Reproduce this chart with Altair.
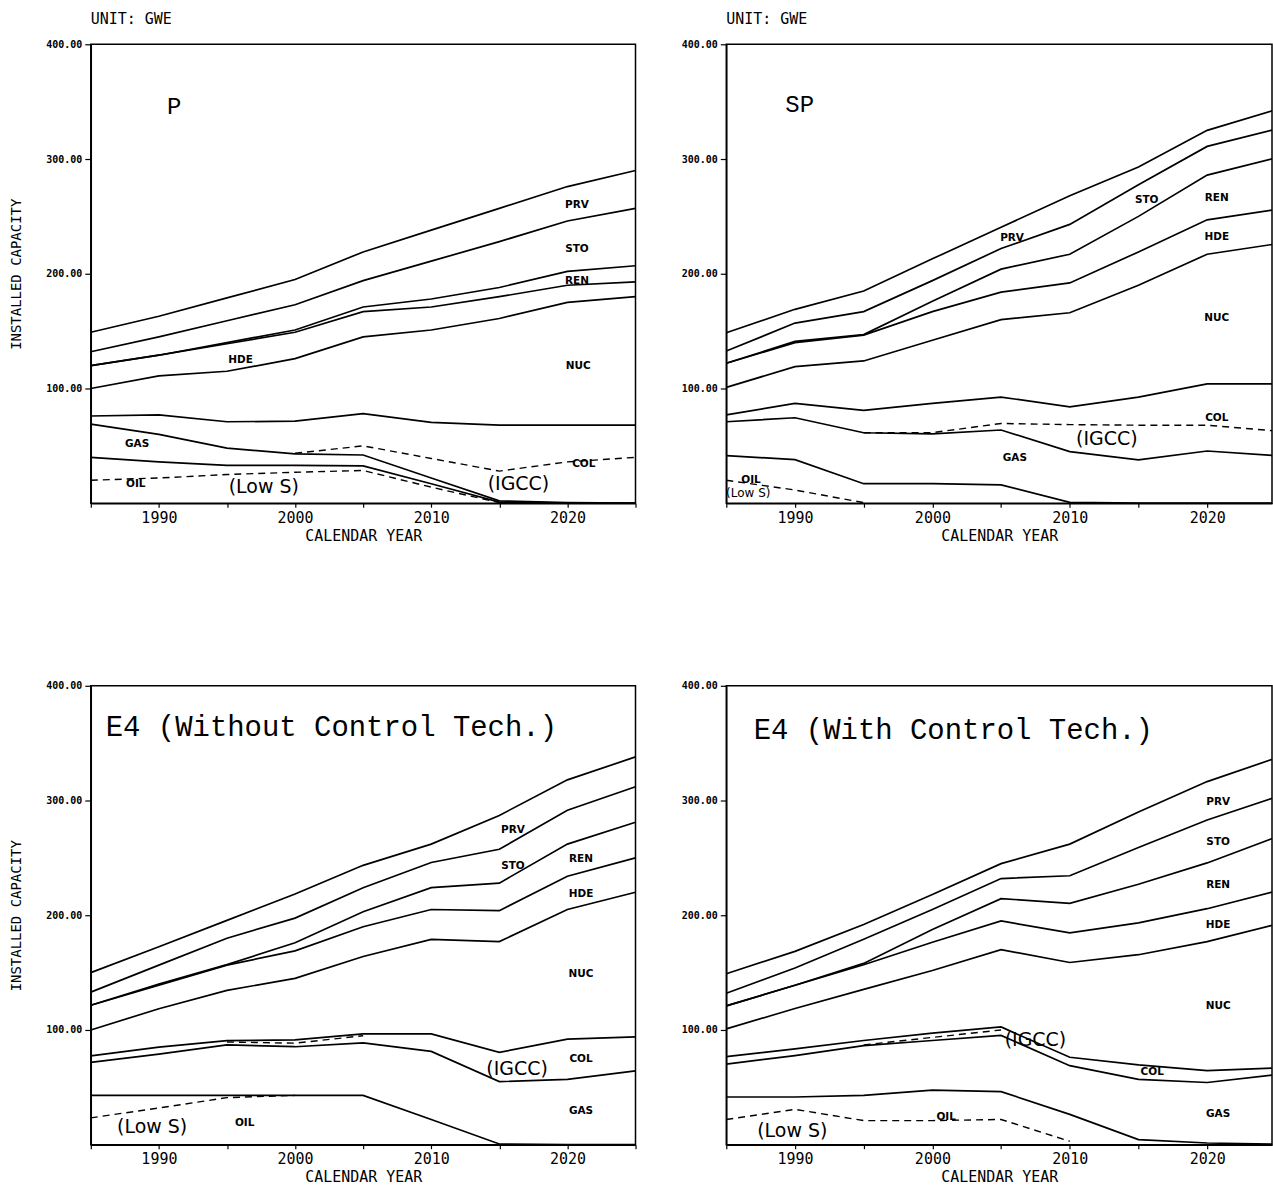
import altair as alt
import pandas as pd

YEARS = [1985, 1990, 1995, 2000, 2005, 2010, 2015, 2020, 2025]

# Cumulative installed capacity (GWe) at the upper edge of each band.
# Order from top to bottom: PRV, STO, REN, HDE, NUC, COL, GAS, OIL.
P_TOP = {
    "PRV": [149, 163, 179, 195, 219, 238, 257, 276, 290],
    "STO": [132, 145, 159, 173, 194, 211, 228, 246, 257],
    "REN": [120, 129, 140, 151, 171, 178, 188, 202, 207],
    "HDE": [120, 129, 139, 149, 167, 171, 180, 190, 193],
    "NUC": [100, 111, 115, 126, 145, 151, 161, 175, 180],
    "COL": [76, 77, 71, 71.5, 78, 70.5, 68, 68, 68],
    "GAS": [69, 60, 48, 43, 42, 22, 2, 0.5, 0],
    "OIL": [40, 36, 33, 33, 32.5, 17, 1, 0, 0],
}
P_IGCC = [None, None, None, 43.5, 50, 39, 28, 36, 40]
P_LOWS = [20, 22, 25, 27, 28.5, 14, 0.5, None, None]

SP_TOP = {
    "PRV": [148.6, 169, 185, 213, 240.5, 268, 293, 325, 343],
    "STO": [132.6, 157, 167, 194, 222, 243, 277.5, 311, 326],
    "REN": [122, 141, 147, 176, 204, 217, 250, 286, 301],
    "HDE": [122, 140, 146.5, 167, 184, 192, 219, 247, 256],
    "NUC": [101, 119, 124, 142, 160, 166, 190, 217, 226],
    "COL": [77, 87, 81, 87, 92.5, 84, 92.5, 104, 104],
    "GAS": [71, 74.5, 61.4, 60.5, 63.8, 45, 37.7, 45.5, 41.5],
    "OIL": [41.5, 38, 17, 17, 16, 0.8, 0, 0, 0],
}
SP_IGCC = [None, None, 61.4, 61.5, 69.5, 68.5, 68, 68, 63]
SP_LOWS = [20, 11.5, 0.5, None, None, None, None, None, None]

E4N_TOP = {
    "PRV": [150, 172.5, 195.5, 218.5, 243.5, 262, 287, 318, 338],
    "STO": [133, 156.5, 180, 197.5, 224, 246, 257.5, 291.5, 312],
    "REN": [121.5, 140, 157, 176, 203, 224, 228, 262, 281],
    "HDE": [121.5, 139, 156.5, 169, 190, 205, 204, 234, 250],
    "NUC": [100, 118.5, 134.5, 145, 164, 179, 177, 205, 220],
    "COL": [77.5, 85, 90.7, 91.3, 96.6, 96.6, 80.5, 92, 94],
    "GAS": [71.7, 79, 87, 85.4, 88.7, 81.3, 55, 57, 64.4],
    "OIL": [43, 43, 43, 43, 43, 22, 0.6, 0, 0],
}
E4N_IGCC = [None, None, 89.5, 88.5, 95, None, None, None, None]
E4N_LOWS = [23.4, 32, 41, 43, None, None, None, None, None]

E4C_TOP = {
    "PRV": [149, 168.5, 192, 218, 245, 262, 290, 316.5, 337],
    "STO": [132, 154, 179, 205, 232, 234.4, 259, 283, 303],
    "REN": [121, 139, 158, 187.5, 214.5, 210.4, 227, 245.6, 268],
    "HDE": [121, 139, 156.8, 176.4, 195, 184.6, 193.4, 205.7, 221],
    "NUC": [101, 118.7, 135.4, 151.8, 170, 158.8, 165.6, 177, 192],
    "COL": [76.8, 83.5, 90.8, 97.3, 102.6, 76.2, 69.5, 64.5, 66.8],
    "GAS": [70.3, 77.7, 86.4, 90.8, 95.2, 68.9, 57, 54.2, 61],
    "OIL": [41.6, 41.6, 43, 47.5, 46.3, 26.4, 4.4, 1.5, 0.5],
}
E4C_IGCC = [None, None, 87, 93.5, 100, None, None, None, None]
E4C_LOWS = [22, 30.8, 21, 21, 22, 3, None, None, None]

# Band names written inside the chart: (text, year, GWe)
P_BAND_LABELS = [("PRV", 2020.7, 260), ("STO", 2020.7, 221.5), ("REN", 2020.7, 194),
                 ("HDE", 1996.0, 125), ("NUC", 2020.8, 120), ("GAS", 1988.4, 52),
                 ("COL", 2021.2, 34), ("OIL", 1988.3, 17)]
SP_BAND_LABELS = [("STO", 2015.6, 264), ("REN", 2020.7, 266), ("PRV", 2005.8, 231),
                  ("HDE", 2020.7, 232), ("NUC", 2020.7, 161), ("COL", 2020.7, 74),
                  ("GAS", 2006.0, 39), ("OIL", 1986.8, 20)]
E4N_BAND_LABELS = [("PRV", 2016.0, 274), ("STO", 2016.0, 242.5), ("REN", 2021.0, 248.6),
                   ("HDE", 2021.0, 218.8), ("NUC", 2021.0, 148.8), ("COL", 2021.0, 75),
                   ("GAS", 2021.0, 29), ("OIL", 1996.3, 19.3)]
E4C_BAND_LABELS = [("PRV", 2020.8, 299), ("STO", 2020.8, 264), ("REN", 2020.8, 226),
                   ("HDE", 2020.8, 191.7), ("NUC", 2020.8, 120.8), ("COL", 2016.0, 63),
                   ("GAS", 2020.8, 27), ("OIL", 2001.0, 24.5)]

# Technology notes: (text, year, GWe)
P_NOTES = [("(Low S)", 1997.7, 14), ("(IGCC)", 2016.4, 16.5)]
SP_NOTES = [("(IGCC)", 2012.7, 55.7)]
SP_SMALL_NOTES = [("(Low S)", 1986.6, 8.7)]
E4N_NOTES = [("(Low S)", 1989.5, 15), ("(IGCC)", 2016.3, 65.6)]
E4C_NOTES = [("(Low S)", 1989.8, 12.3), ("(IGCC)", 2007.5, 91)]

# Scenario names: (text, year of left edge, GWe, font size)
P_NAME = [("P", 1990.6, 345, 24)]
SP_NAME = [("SP", 1989.3, 347, 24)]
E4N_NAME = [("E4  (Without Control Tech.)", 1986.1, 364, 29)]
E4C_NAME = [("E4  (With Control Tech.)", 1987.0, 361.5, 29)]

MONO = "DejaVu Sans Mono"


def line_frame(series):
    rows = []
    for name, vals in series.items():
        for yr, v in zip(YEARS, vals):
            if v is not None:
                rows.append({"series": name, "year": yr, "value": v})
    return pd.DataFrame(rows)


def label_frame(items):
    return pd.DataFrame([{"label": t, "year": x, "value": y} for t, x, y in items])


def panel(tops, igcc, lows, band_labels, notes, name, left, small_notes=None):
    width = 546 if left else 547
    x_max = 2025 if left else 2024.72
    tick_years = [y for y in range(1985, 2026, 5) if y <= x_max]

    x_enc = alt.X(
        "year:Q",
        scale=alt.Scale(domain=[1985, x_max], nice=False, zero=False),
        axis=alt.Axis(
            values=tick_years, format="d",
            labelExpr="datum.value % 10 === 0 ? datum.label : ''",
            title="CALENDAR YEAR", titlePadding=2,
            tickSize=4, labelPadding=3, minExtent=23, maxExtent=23,
            grid=False, labelFlush=False,
        ),
    )
    y_enc = alt.Y(
        "value:Q",
        scale=alt.Scale(domain=[0, 400], nice=False),
        axis=alt.Axis(
            values=[100, 200, 300, 400], format=".2f",
            title="INSTALLED CAPACITY" if left else None,
            titlePadding=17, tickSize=6, labelPadding=3,
            minExtent=50, maxExtent=50, grid=False,
        ),
    )

    solid = alt.Chart(line_frame(tops)).mark_line(
        color="black", strokeWidth=1.7, clip=True
    ).encode(x=x_enc, y=y_enc, detail="series:N")

    dashed = alt.Chart(line_frame({"IGCC": igcc, "LOWS": lows})).mark_line(
        color="black", strokeWidth=1.4, strokeDash=[7, 5], clip=True
    ).encode(x=x_enc, y=y_enc, detail="series:N")

    bands = alt.Chart(label_frame(band_labels)).mark_text(
        font="DejaVu Sans", fontWeight="bold", fontSize=10.5,
        align="center", baseline="middle", color="black"
    ).encode(x=x_enc, y=y_enc, text="label:N")

    note_layer = alt.Chart(label_frame(notes)).mark_text(
        font="DejaVu Sans", fontSize=19, align="center",
        baseline="middle", color="black"
    ).encode(x=x_enc, y=y_enc, text="label:N")

    name_df = pd.DataFrame([{"label": t, "year": x, "value": y, "fs": s}
                            for t, x, y, s in name])
    name_layer = alt.Chart(name_df).mark_text(
        font="Liberation Mono", align="left", baseline="middle", color="black"
    ).encode(x=x_enc, y=y_enc, text="label:N", size=alt.Size("fs:Q", scale=None))

    layers = [solid, dashed, bands, note_layer, name_layer]
    if small_notes:
        layers.append(alt.Chart(label_frame(small_notes)).mark_text(
            font="DejaVu Sans", fontSize=12, align="center",
            baseline="middle", color="black"
        ).encode(x=x_enc, y=y_enc, text="label:N"))

    return alt.layer(*layers).properties(width=width, height=460)


unit_title = alt.TitleParams(
    "UNIT: GWE", anchor="start", frame="group", font=MONO,
    fontSize=15, fontWeight="normal", offset=12, color="black",
)

p_top_left = panel(P_TOP, P_IGCC, P_LOWS, P_BAND_LABELS, P_NOTES, P_NAME, True)
p_top_right = panel(SP_TOP, SP_IGCC, SP_LOWS, SP_BAND_LABELS, SP_NOTES, SP_NAME, False,
                    small_notes=SP_SMALL_NOTES)
p_bot_left = panel(E4N_TOP, E4N_IGCC, E4N_LOWS, E4N_BAND_LABELS, E4N_NOTES, E4N_NAME, True)
p_bot_right = panel(E4C_TOP, E4C_IGCC, E4C_LOWS, E4C_BAND_LABELS, E4C_NOTES, E4C_NAME, False)

top_row = alt.hconcat(
    p_top_left.properties(title=unit_title),
    p_top_right.properties(title=unit_title),
    spacing=38,
)
bottom_row = alt.hconcat(p_bot_left, p_bot_right, spacing=38)

chart = alt.vconcat(top_row, bottom_row, spacing=136).properties(
    padding={"left": 9, "top": 10, "right": 0, "bottom": 0},
    background="white",
).configure_view(
    stroke="black", strokeWidth=1.5
).configure_axis(
    domainColor="black", domainWidth=1.5, tickColor="black", tickWidth=1.2,
    labelColor="black", titleColor="black",
    titleFont=MONO, titleFontSize=14, titleFontWeight="normal",
).configure_axisX(
    labelFont=MONO, labelFontSize=15, labelFontWeight="normal",
    titleFontSize=15,
).configure_axisY(
    labelFont=MONO, labelFontSize=10, labelFontWeight="bold",
)

chart.save("out.html", embed_options={"renderer": "svg", "actions": False})
